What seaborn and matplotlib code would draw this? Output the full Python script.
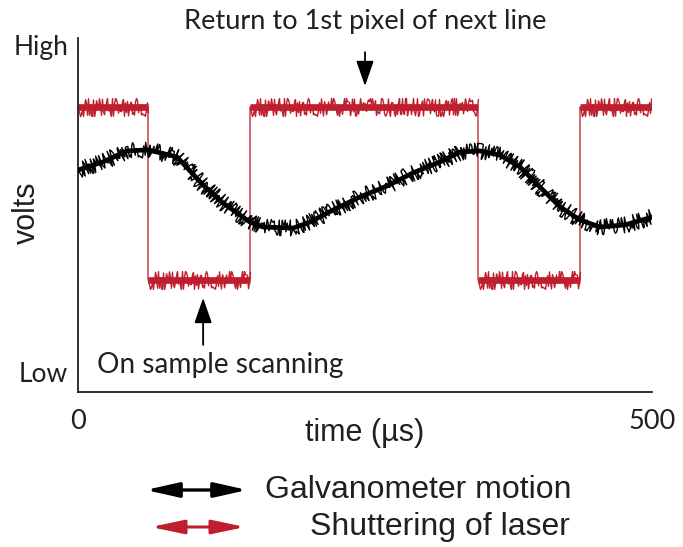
import matplotlib
matplotlib.use("Agg")
import matplotlib.pyplot as plt
from matplotlib.patches import FancyArrowPatch
import seaborn as sns
import pandas as pd

# Galvanometer drive voltage (normalised 0..1) through one scan period
galvo_time = [0, 21.8, 42.7, 61.0, 86.2, 108.9, 126.3, 141.1, 149.8, 161.2,
              187.3, 202.1, 222.1, 245.6, 269.2, 291.8, 315.3, 332.8, 350.2,
              367.6, 385.0, 402.4, 419.9, 437.3, 454.7, 476.5, 500]
galvo_volts = [0.627, 0.650, 0.681, 0.684, 0.664, 0.585, 0.534, 0.500, 0.480,
               0.466, 0.463, 0.480, 0.514, 0.551, 0.582, 0.619, 0.650, 0.678,
               0.681, 0.669, 0.636, 0.579, 0.523, 0.486, 0.466, 0.472, 0.494]

# Laser shutter: switching times and the level held in each interval
shutter_edges = [0, 61, 150, 348, 437, 500]
shutter_levels = [0.805, 0.316, 0.805, 0.316, 0.805]

x_ticks = [0, 500]
x_tick_labels = ["0", "500"]
y_level_labels = ["High", "Low"]

INK = "#231F20"
RED = "#BE1E2D"
W, H = 683, 547

sns.set_theme(style="white")
plt.rcParams["font.family"] = ["Lato", "DejaVu Sans"]

fig = plt.figure(figsize=(W / 100, H / 100), dpi=100)
ax = fig.add_axes([78 / W, 1 - 392 / H, (652 - 78) / W, (392 - 38) / H])


def fx(px):
    return px / W


def fy(py):
    return 1 - py / H


galvo = pd.DataFrame({"time": galvo_time, "volts": galvo_volts})
# solid core of the trace
sns.lineplot(data=galvo, x="time", y="volts", ax=ax, color="black",
             linewidth=3.4, sort=True, zorder=3)
# jittery overlay gives the noisy spikes of the recorded signal
sns.lineplot(data=galvo, x="time", y="volts", ax=ax, color="black",
             linewidth=1.0, sort=True, zorder=3)
ax.lines[-1].set_sketch_params(scale=8.0, length=0.5, randomness=25)

# shutter: thin vertical transitions plus noisy plateaus
step_t = shutter_edges
step_v = shutter_levels + [shutter_levels[-1]]
ax.plot(step_t, step_v, drawstyle="steps-post", color=RED, linewidth=1.1,
        alpha=0.85, zorder=2)
ax.hlines(shutter_levels, shutter_edges[:-1], shutter_edges[1:],
          colors=RED, linewidth=4.8, zorder=2)
spikes = ax.hlines(shutter_levels, shutter_edges[:-1], shutter_edges[1:],
                   colors=RED, linewidth=1.0, zorder=2)
spikes.set_sketch_params(scale=9.0, length=0.5, randomness=25)

ax.set_xlim(0, 500)
ax.set_ylim(0, 1)
ax.set_xticks(x_ticks)
ax.set_xticklabels(x_tick_labels, fontsize=19.5, color=INK)
ax.tick_params(axis="x", length=0, pad=12)
ax.set_yticks([])
ax.set_xlabel("")
ax.set_ylabel("")
for side in ("top", "right"):
    ax.spines[side].set_visible(False)
for side in ("left", "bottom"):
    ax.spines[side].set_color(INK)
    ax.spines[side].set_linewidth(1.3)

# level labels on the voltage axis
fig.text(fx(68), fy(48), y_level_labels[0], ha="right", va="center",
         fontsize=19, color=INK)
fig.text(fx(68), fy(375), y_level_labels[1], ha="right", va="center",
         fontsize=19, color=INK)
fig.text(fx(27), fy(213), "volts", rotation=90, ha="center", va="center",
         fontsize=22, color=INK, family="Liberation Sans")
fig.text(fx(365), fy(433), "time (µs)", ha="center", va="center",
         fontsize=22, color=INK, family="Liberation Sans")

# annotations
fig.text(fx(365), fy(22), "Return to 1st pixel of next line", ha="center",
         va="center", fontsize=19.6, color=INK)
ax.annotate("", xy=(250, 0.864), xytext=(250, 0.960),
            arrowprops=dict(arrowstyle="-|>,head_length=1.3,head_width=0.45",
                            color="black", lw=1.3, shrinkA=0, shrinkB=0))
fig.text(fx(97), fy(365), "On sample scanning", ha="left", va="center",
         fontsize=20.2, color=INK)
ax.annotate("", xy=(109, 0.266), xytext=(109, 0.133),
            arrowprops=dict(arrowstyle="-|>,head_length=1.3,head_width=0.45",
                            color="black", lw=1.3, shrinkA=0, shrinkB=0))

# key
fig.add_artist(FancyArrowPatch((fx(143), fy(490)), (fx(250), fy(490)),
                               transform=fig.transFigure,
                               arrowstyle="<|-|>,head_length=2.0,head_width=0.45",
                               mutation_scale=10, color="black", lw=2.4))
fig.add_artist(FancyArrowPatch((fx(148), fy(527)), (fx(248), fy(527)),
                               transform=fig.transFigure,
                               arrowstyle="<|-|>,head_length=2.0,head_width=0.42",
                               mutation_scale=10, color=RED, lw=2.2))
fig.text(fx(265), fy(490), "Galvanometer motion", ha="left", va="center",
         fontsize=23, color=INK, family="Liberation Sans")
fig.text(fx(570), fy(527), "Shuttering of laser", ha="right", va="center",
         fontsize=23, color=INK, family="Liberation Sans")

fig.savefig("out.png", dpi=100)
